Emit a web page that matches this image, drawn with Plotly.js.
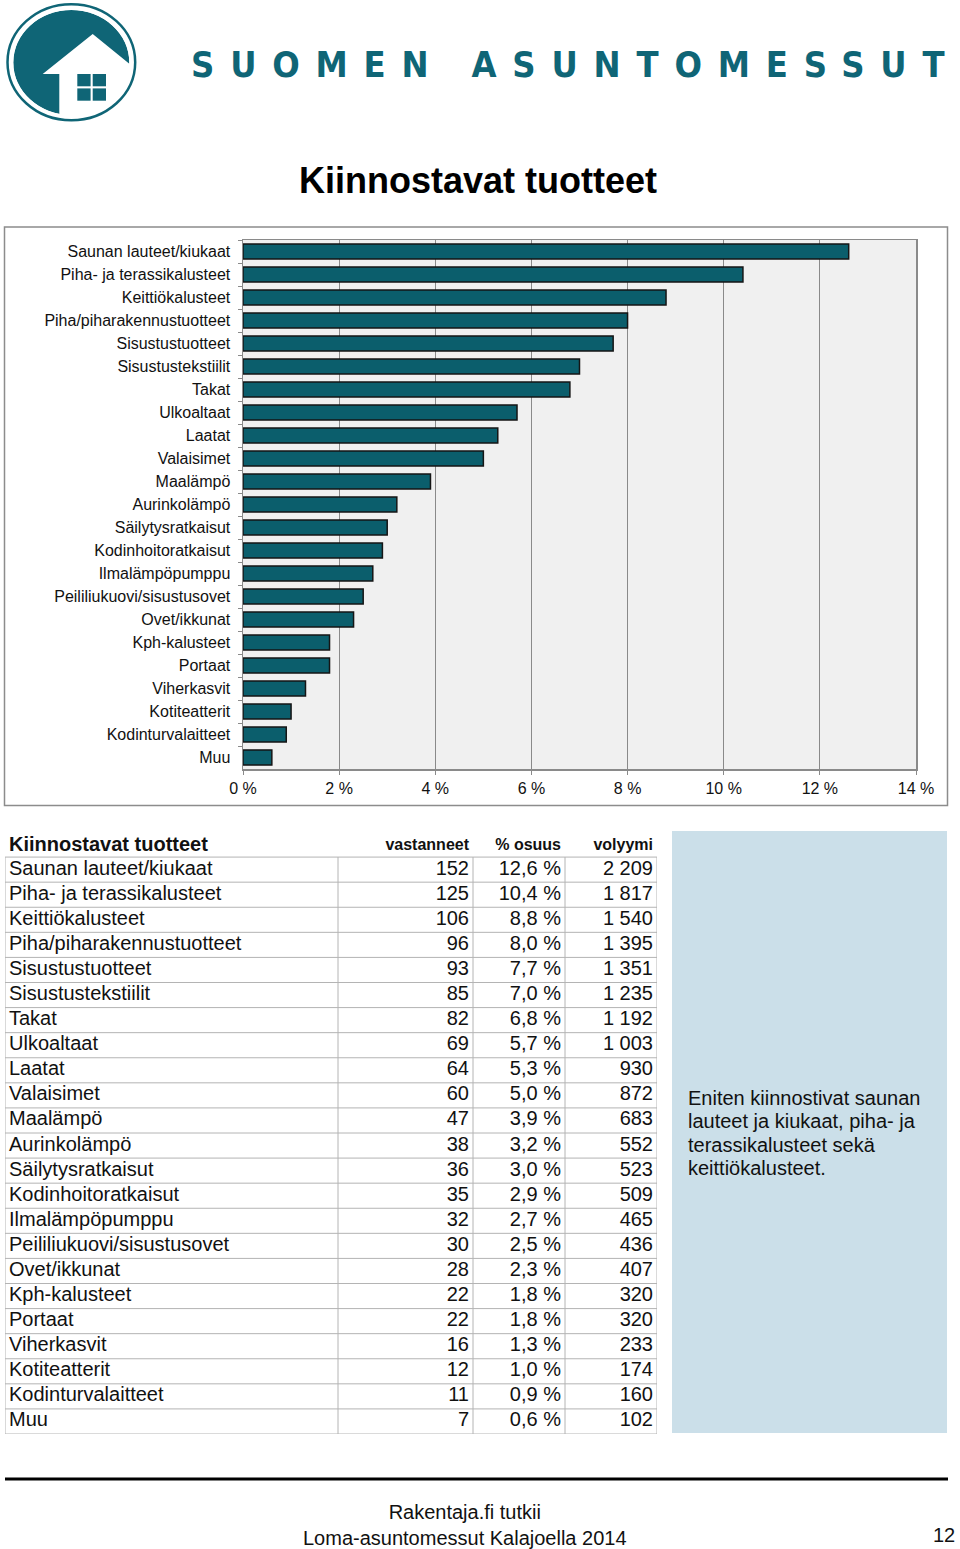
<!DOCTYPE html>
<html>
<head>
<meta charset="utf-8">
<script src="https://cdn.plot.ly/plotly-3.0.1.min.js"></script>
<style>
  html, body { margin: 0; padding: 0; background: #ffffff; }
  #chart { width: 960px; height: 1549px; }
</style>
</head>
<body>
<div id="chart"></div>
<script>
// ---------- DATA ----------
const categories = [
  "Saunan lauteet/kiukaat", "Piha- ja terassikalusteet", "Keittiökalusteet",
  "Piha/piharakennustuotteet", "Sisustustuotteet", "Sisustustekstiilit", "Takat",
  "Ulkoaltaat", "Laatat", "Valaisimet", "Maalämpö", "Aurinkolämpö",
  "Säilytysratkaisut", "Kodinhoitoratkaisut", "Ilmalämpöpumppu",
  "Peililiukuovi/sisustusovet", "Ovet/ikkunat", "Kph-kalusteet", "Portaat",
  "Viherkasvit", "Kotiteatterit", "Kodinturvalaitteet", "Muu"
];
const respondents = [152, 125, 106, 96, 93, 85, 82, 69, 64, 60, 47, 38, 36, 35, 32, 30, 28, 22, 22, 16, 12, 11, 7];
const sharePct = [12.6, 10.4, 8.8, 8.0, 7.7, 7.0, 6.8, 5.7, 5.3, 5.0, 3.9, 3.2, 3.0, 2.9, 2.7, 2.5, 2.3, 1.8, 1.8, 1.3, 1.0, 0.9, 0.6];
const volume = [2209, 1817, 1540, 1395, 1351, 1235, 1192, 1003, 930, 872, 683, 552, 523, 509, 465, 436, 407, 320, 320, 233, 174, 160, 102];
const xTickVals = [0, 2, 4, 6, 8, 10, 12, 14];
const xTickText = ["0 %", "2 %", "4 %", "6 %", "8 %", "10 %", "12 %", "14 %"];
const tableHeaders = ["Kiinnostavat tuotteet", "vastanneet", "% osuus", "volyymi"];
const pageTitle = "Kiinnostavat tuotteet";
const brandText = "SUOMEN ASUNTOMESSUT";
const noteLines = ["Eniten kiinnostivat saunan", "lauteet ja kiukaat, piha- ja", "terassikalusteet sekä", "keittiökalusteet."];
const footerLines = ["Rakentaja.fi tutkii", "Loma-asuntomessut Kalajoella 2014"];
const pageNumber = "12";

// ---------- HELPERS ----------
const W = 960, H = 1549;
const PX = x => x / W;
const PY = y => 1 - y / H;
const fmtPct = v => v.toFixed(1).replace('.', ',') + ' %';
const fmtVol = v => v >= 1000 ? Math.floor(v / 1000) + ' ' + String(v % 1000).padStart(3, '0') : String(v);

const FONT = "Liberation Sans, Arial, Helvetica, sans-serif";
const TEAL = "#0f6576";
const BAR = "#0b5e6c";

// table geometry (page pixels, used as x2 axis units)
const colEdges = [5, 338, 473, 565, 657];
const nRows = categories.length;
const rowIdx = categories.map((_, i) => i);

// ---------- TRACES ----------
const barTrace = {
  type: 'bar',
  orientation: 'h',
  x: sharePct,
  y: categories,
  marker: { color: BAR, line: { color: '#151515', width: 1.5 } },
  hoverinfo: 'x+y',
  showlegend: false
};

const columnTexts = [categories, respondents.map(String), sharePct.map(fmtPct), volume.map(fmtVol)];
const tableTraces = columnTexts.map((vals, c) => ({
  type: 'scatter', mode: 'text', xaxis: 'x2', yaxis: 'y2',
  x: vals.map(() => c === 0 ? colEdges[0] + 4 : colEdges[c + 1] - 4),
  y: rowIdx,
  text: vals,
  textposition: c === 0 ? 'middle right' : 'middle left',
  textfont: { family: FONT, size: 20, color: '#111' },
  cliponaxis: false, hoverinfo: 'skip', showlegend: false
}));
const headerTraces = tableHeaders.map((h, c) => ({
  type: 'scatter', mode: 'text', xaxis: 'x2', yaxis: 'y2',
  x: [c === 0 ? colEdges[0] + 4 : colEdges[c + 1] - 4],
  y: [-0.95],
  text: ['<b>' + h + '</b>'],
  textposition: c === 0 ? 'middle right' : 'middle left',
  textfont: { family: FONT, size: c === 0 ? 20 : 16, color: '#111' },
  cliponaxis: false, hoverinfo: 'skip', showlegend: false
}));

// table grid lines (data-driven on the x2/y2 axes)
const gridShapes = [];
for (let i = 0; i <= nRows; i++) {
  gridShapes.push({ type: 'line', xref: 'x2', yref: 'y2', x0: colEdges[0], x1: colEdges[colEdges.length - 1],
    y0: i - 0.5, y1: i - 0.5, line: { color: '#b4b4b4', width: 1 } });
}
colEdges.forEach(e => {
  gridShapes.push({ type: 'line', xref: 'x2', yref: 'y2', x0: e, x1: e, y0: -0.5, y1: nRows - 0.5,
    line: { color: '#b4b4b4', width: 1 } });
});

// ---------- LOGO SHAPES ----------
const cx = 71.3, cy = 62.5;
const logoShapes = [
  { type: 'circle', xref: 'paper', yref: 'paper', x0: PX(13.3), x1: PX(129.3), y0: PY(115), y1: PY(10),
    fillcolor: TEAL, line: { width: 0 } },
  { type: 'path', xref: 'paper', yref: 'paper',
    path: `M ${PX(92.7)} ${PY(34)} L ${PX(145)} ${PY(76.5)} L ${PX(145)} ${PY(135)} L ${PX(59.3)} ${PY(135)} L ${PX(59.3)} ${PY(74)} L ${PX(42.7)} ${PY(74)} Z`,
    fillcolor: '#ffffff', line: { width: 0 } },
  { type: 'circle', xref: 'paper', yref: 'paper', x0: PX(cx - 70), x1: PX(cx + 70), y0: PY(cy + 64.5), y1: PY(cy - 64.5),
    fillcolor: 'rgba(0,0,0,0)', line: { color: '#ffffff', width: 24 } },
  { type: 'circle', xref: 'paper', yref: 'paper', x0: PX(7.5), x1: PX(135.2), y0: PY(120.2), y1: PY(4.2),
    fillcolor: 'rgba(0,0,0,0)', line: { color: TEAL, width: 2.5 } },
  { type: 'rect', xref: 'paper', yref: 'paper', x0: PX(77.3), x1: PX(90.6), y0: PY(86.3), y1: PY(74), fillcolor: TEAL, line: { width: 0 } },
  { type: 'rect', xref: 'paper', yref: 'paper', x0: PX(92.7), x1: PX(106), y0: PY(86.3), y1: PY(74), fillcolor: TEAL, line: { width: 0 } },
  { type: 'rect', xref: 'paper', yref: 'paper', x0: PX(77.3), x1: PX(90.6), y0: PY(100.7), y1: PY(88.4), fillcolor: TEAL, line: { width: 0 } },
  { type: 'rect', xref: 'paper', yref: 'paper', x0: PX(92.7), x1: PX(106), y0: PY(100.7), y1: PY(88.4), fillcolor: TEAL, line: { width: 0 } }
];

const frameShapes = [
  { type: 'rect', xref: 'paper', yref: 'paper', x0: PX(4.5), x1: PX(947.5), y0: PY(805.5), y1: PY(227),
    fillcolor: 'rgba(0,0,0,0)', line: { color: '#8c8c8c', width: 1.5 } },
  { type: 'rect', xref: 'paper', yref: 'paper', x0: PX(672), x1: PX(947), y0: PY(1433), y1: PY(831),
    fillcolor: '#cbdfe9', line: { width: 0 }, layer: 'below' },
  { type: 'line', xref: 'paper', yref: 'paper', x0: PX(5), x1: PX(948), y0: PY(1479), y1: PY(1479),
    line: { color: '#000000', width: 3 } }
];

// ---------- ANNOTATIONS ----------
// letter spacing applied between glyphs only (no trailing space after the last letter)
const brandHtml = '<span style="letter-spacing:15.8px">' + brandText.slice(0, -1) + '</span>' + brandText.slice(-1);
const annotations = [
  { xref: 'paper', yref: 'paper', x: PX(567.5), y: PY(65), xanchor: 'center', yanchor: 'middle', showarrow: false,
    text: brandHtml,
    font: { family: "DejaVu Sans Condensed, DejaVu Sans, sans-serif", size: 36, color: TEAL, weight: 'bold' } },
  { xref: 'paper', yref: 'paper', x: PX(477.5), y: PY(180), xanchor: 'center', yanchor: 'middle', showarrow: false,
    text: '<b>' + pageTitle + '</b>', font: { family: FONT, size: 36, color: '#000' } },
  { xref: 'paper', yref: 'paper', x: PX(464.5), y: PY(1524.5), xanchor: 'center', yanchor: 'middle', align: 'center', showarrow: false,
    text: footerLines.join('<br>'), font: { family: FONT, size: 20, color: '#111' } },
  { xref: 'paper', yref: 'paper', x: PX(957), y: PY(1535), xanchor: 'right', yanchor: 'middle', showarrow: false,
    text: pageNumber, font: { family: FONT, size: 20, color: '#111' } }
].concat(noteLines.map((t, i) => ({
  xref: 'paper', yref: 'paper', x: PX(686), y: PY(1098 + i * 23.4), xanchor: 'left', yanchor: 'middle', align: 'left',
  showarrow: false, text: t, font: { family: FONT, size: 20, color: '#111' }
})));

// ---------- LAYOUT ----------
const layout = {
  width: W, height: H,
  margin: { l: 0, r: 0, t: 0, b: 0, pad: 0 },
  paper_bgcolor: '#ffffff',
  plot_bgcolor: 'rgba(0,0,0,0)',
  font: { family: FONT, color: '#111' },
  showlegend: false,
  bargap: 0.34,
  xaxis: {
    domain: [PX(243), PX(916)],
    range: [0, 14],
    tickmode: 'array', tickvals: xTickVals, ticktext: xTickText,
    tickfont: { family: FONT, size: 16, color: '#111' },
    showgrid: true, gridcolor: '#8a8a8a', gridwidth: 1,
    showline: true, linecolor: '#8a8a8a', linewidth: 1.5, mirror: true,
    ticks: 'outside', ticklen: 4, tickcolor: '#8a8a8a',
    zeroline: false, fixedrange: true
  },
  yaxis: {
    domain: [PY(769), PY(240)],
    type: 'category',
    categoryorder: 'array', categoryarray: categories,
    autorange: 'reversed',
    tickson: 'boundaries',
    ticks: 'outside', ticklen: 4, tickcolor: '#8a8a8a',
    ticklabelstandoff: 8,
    tickfont: { family: FONT, size: 16, color: '#111' },
    showgrid: false,
    showline: true, linecolor: '#8a8a8a', linewidth: 1.5, mirror: true,
    zeroline: false, fixedrange: true
  },
  xaxis2: {
    domain: [PX(colEdges[0]), PX(colEdges[colEdges.length - 1])],
    range: [colEdges[0], colEdges[colEdges.length - 1]],
    visible: false, fixedrange: true, anchor: 'y2'
  },
  yaxis2: {
    domain: [PY(1434), PY(832)],
    range: [nRows - 0.5, -1.5],
    visible: false, fixedrange: true, anchor: 'x2'
  },
  shapes: [
    { type: 'rect', xref: 'x', yref: 'paper', x0: 0, x1: 14, y0: PY(769), y1: PY(240),
      fillcolor: '#f0f0f0', line: { width: 0 }, layer: 'below' }
  ].concat(frameShapes, gridShapes, logoShapes),
  annotations: annotations
};

Plotly.newPlot('chart', [barTrace].concat(headerTraces, tableTraces), layout, { displayModeBar: false, staticPlot: true });
</script>
</body>
</html>
